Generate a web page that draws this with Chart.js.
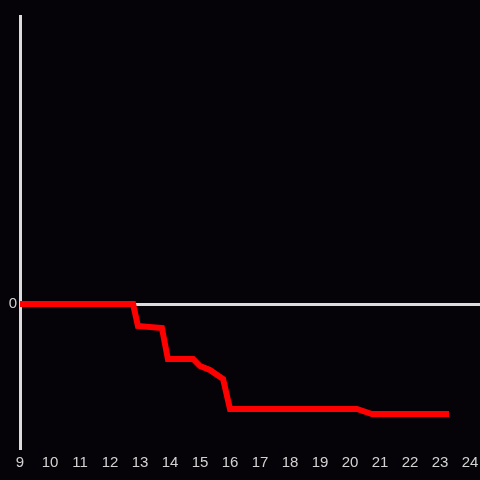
<!DOCTYPE html>
<html>
<head>
<meta charset="utf-8">
<script src="https://cdn.jsdelivr.net/npm/chart.js@4"></script>
<style>
  html, body { margin: 0; padding: 0; background: #050307; }
  #chart { display: block; }
</style>
</head>
<body>
<canvas id="chart" width="480" height="480"></canvas>
<script>
// Data
const hours = [9, 12.77, 12.93, 13.73, 13.93, 14.77, 15.0, 15.33, 15.77, 16.0, 20.23, 20.73, 23.3];
const values = [0, 0, -22, -24, -55, -55, -62, -66, -75, -105, -105, -110, -110];
const xTicks = [9, 10, 11, 12, 13, 14, 15, 16, 17, 18, 19, 20, 21, 22, 23, 24];
const yTicks = [0];

const axisColor = '#dcdcdc';
const labelColor = '#d2d2d2';

const points = hours.map((h, i) => ({ x: h, y: values[i] }));

const bgPlugin = {
    id: 'bg',
    beforeDraw(chart) {
        const ctx = chart.ctx;
        ctx.save();
        ctx.fillStyle = '#050307';
        ctx.fillRect(0, 0, chart.width, chart.height);
        ctx.restore();
    }
};

const ctx = document.getElementById('chart').getContext('2d');
const chart = new Chart(ctx, {
    type: 'line',
    data: {
        datasets: [{
            data: points,
            borderColor: '#ff0000',
            borderWidth: 6,
            pointRadius: 0,
            tension: 0,
            fill: false
        }]
    },
    options: {
        responsive: false,
        animation: false,
        layout: { padding: { top: 16, right: 0, left: 0, bottom: 0 } },
        plugins: {
            legend: { display: false },
            tooltip: { enabled: false }
        },
        scales: {
            x: {
                type: 'linear',
                min: 9,
                max: 24.333,
                afterBuildTicks: (axis) => {
                    axis.ticks = xTicks.map(v => ({ value: v }));
                },
                afterFit: (axis) => {
                    axis.height = 32;
                    axis.paddingLeft = 0;
                    axis.paddingRight = 0;
                },
                grid: { display: false, drawTicks: false },
                border: { display: false },
                ticks: {
                    color: labelColor,
                    padding: 6,
                    maxRotation: 0,
                    autoSkip: false,
                    font: { family: 'Liberation Sans', size: 15 }
                }
            },
            y: {
                min: -144,
                max: 288,
                afterBuildTicks: (axis) => {
                    axis.ticks = yTicks.map(v => ({ value: v }));
                },
                afterFit: (axis) => { axis.width = 20; },
                grid: {
                    drawTicks: false,
                    color: (c) => c.tick && c.tick.value === 0 ? axisColor : 'rgba(0,0,0,0)',
                    lineWidth: 3
                },
                border: { display: true, color: axisColor, width: 3 },
                ticks: {
                    color: labelColor,
                    padding: 3,
                    font: { family: 'Liberation Sans', size: 15 }
                }
            }
        }
    },
    plugins: [bgPlugin]
});
</script>
</body>
</html>
